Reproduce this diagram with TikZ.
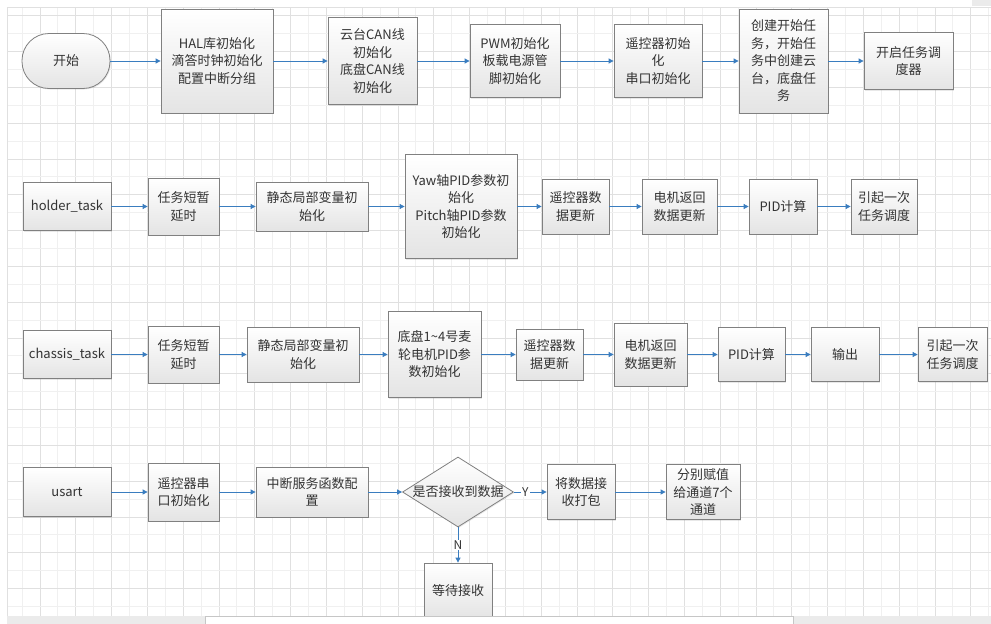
\documentclass[tikz,border=0pt]{standalone}
\usepackage{fontspec}
\setmainfont{Noto Sans CJK SC}
\usetikzlibrary{arrows.meta,shapes.geometric,shadows}
\definecolor{gridminor}{HTML}{F0F0F0}
\definecolor{gridmajor}{HTML}{E0E0E0}
\definecolor{boxborder}{HTML}{808080}
\definecolor{boxbottom}{HTML}{E4E4E4}
\definecolor{arrowblue}{HTML}{3A7DBF}
\definecolor{txt}{HTML}{333333}
\definecolor{barcol}{HTML}{EBEBEB}
\begin{document}
\begin{tikzpicture}[x=1pt,y=-1pt,
  box/.style={draw=boxborder, line width=0.8pt, top color=white, bottom color=boxbottom,
    drop shadow={opacity=0.18,shadow xshift=1pt,shadow yshift=-1pt},
    text=txt, align=center, inner sep=0pt, font=\fontsize{13pt}{17.5pt}\selectfont},
  flow/.style={draw=arrowblue, line width=0.8pt, -{Triangle[length=5pt,width=5pt]}},
  lbl/.style={fill=white, inner sep=1pt, text=txt, font=\fontsize{12pt}{14pt}\selectfont},
]
\useasboundingbox (0,0) rectangle (991,624);
\fill[white] (0,0) rectangle (991,624);
% grid
\foreach \k in {0,...,54}{
  \pgfmathsetmacro{\xx}{22+17.9*\k}
  \ifodd\k \def\gc{gridmajor}\else \def\gc{gridminor}\fi
  \draw[\gc, line width=0.8pt] (\xx,7) -- (\xx,616);
}
\foreach \k in {0,...,33}{
  \pgfmathsetmacro{\yy}{15.7+17.9*\k}
  \ifodd\k \def\gc{gridminor}\else \def\gc{gridmajor}\fi
  \draw[\gc, line width=0.8pt] (7,\yy) -- (991,\yy);
}
\draw[gridmajor, line width=0.8pt] (7,616) -- (7,7) -- (991,7);
\fill[barcol] (972,0) rectangle (991,6);

% row 1
\node[box, rounded corners=27pt, minimum width=88pt, minimum height=55pt] (start) at (66,61) {开始};
\node[box, minimum width=112pt, minimum height=104pt] (hal) at (217,61) {HAL库初始化\\滴答时钟初始化\\配置中断分组};
\node[box, minimum width=89pt, minimum height=87pt] (can) at (372.5,61) {云台CAN线\\初始化\\底盘CAN线\\初始化};
\node[box, minimum width=90pt, minimum height=73pt] (pwm) at (515,61) {PWM初始化\\板载电源管\\脚初始化};
\node[box, minimum width=88pt, minimum height=73pt] (rcinit) at (658,61) {遥控器初始\\化\\串口初始化};
\node[box, minimum width=89pt, minimum height=104pt] (create) at (783.5,61) {创建开始任\\务，开始任\\务中创建云\\台，底盘任\\务};
\node[box, minimum width=89pt, minimum height=57pt] (sched) at (908.5,61) {开启任务调\\度器};
\draw[flow] (start) -- (hal);
\draw[flow] (hal) -- (can);
\draw[flow] (can) -- (pwm);
\draw[flow] (pwm) -- (rcinit);
\draw[flow] (rcinit) -- (create);
\draw[flow] (create) -- (sched);

% row 2
\node[box, minimum width=88pt, minimum height=48pt] (holder) at (67,206.5) {holder\_task};
\node[box, minimum width=71pt, minimum height=57pt] (hA) at (183.5,206.5) {任务短暂\\延时};
\node[box, minimum width=112pt, minimum height=49pt] (hB) at (312,206.5) {静态局部变量初\\始化};
\node[box, minimum width=112pt, minimum height=104pt] (hC) at (461,206.5) {Yaw轴PID参数初\\始化\\Pitch轴PID参数\\初始化};
\node[box, minimum width=67pt, minimum height=55pt] (hD) at (575.5,206.5) {遥控器数\\据更新};
\node[box, minimum width=75pt, minimum height=55pt] (hE) at (679.5,206.5) {电机返回\\数据更新};
\node[box, minimum width=68pt, minimum height=55pt] (hF) at (783,206.5) {PID计算};
\node[box, minimum width=66pt, minimum height=55pt] (hG) at (884,206.5) {引起一次\\任务调度};
\draw[flow] (holder) -- (hA);
\draw[flow] (hA) -- (hB);
\draw[flow] (hB) -- (hC);
\draw[flow] (hC) -- (hD);
\draw[flow] (hD) -- (hE);
\draw[flow] (hE) -- (hF);
\draw[flow] (hF) -- (hG);

% row 3
\node[box, minimum width=88pt, minimum height=48pt] (chassis) at (67,354.5) {chassis\_task};
\node[box, minimum width=71pt, minimum height=57pt] (cA) at (183.5,354.5) {任务短暂\\延时};
\node[box, minimum width=112pt, minimum height=55pt] (cB) at (303,354.5) {静态局部变量初\\始化};
\node[box, minimum width=93pt, minimum height=86pt] (cC) at (434.5,354.5) {底盘1\textasciitilde4号麦\\轮电机PID参\\数初始化};
\node[box, minimum width=67pt, minimum height=51pt] (cD) at (549.5,354.5) {遥控器数\\据更新};
\node[box, minimum width=73pt, minimum height=63pt] (cE) at (650.5,354.5) {电机返回\\数据更新};
\node[box, minimum width=67pt, minimum height=54pt] (cF) at (751.5,354.5) {PID计算};
\node[box, minimum width=68pt, minimum height=54pt] (cG) at (845,354.5) {输出};
\node[box, minimum width=69pt, minimum height=54pt] (cH) at (952.5,354.5) {引起一次\\任务调度};
\draw[flow] (chassis) -- (cA);
\draw[flow] (cA) -- (cB);
\draw[flow] (cB) -- (cC);
\draw[flow] (cC) -- (cD);
\draw[flow] (cD) -- (cE);
\draw[flow] (cE) -- (cF);
\draw[flow] (cF) -- (cG);
\draw[flow] (cG) -- (cH);

% row 4
\node[box, minimum width=88pt, minimum height=49pt] (usart) at (67,492) {usart};
\node[box, minimum width=71pt, minimum height=58pt] (uA) at (183.5,492) {遥控器串\\口初始化};
\node[box, minimum width=112pt, minimum height=50pt] (uB) at (312,492) {中断服务函数配\\置};
\node[box, diamond, aspect=1.59, minimum width=111pt, minimum height=70pt] (dec) at (458,492) {\makebox[0pt]{是否接收到数据}};
\node[box, minimum width=68pt, minimum height=55pt] (uC) at (581,492) {将数据接\\收打包};
\node[box, minimum width=74pt, minimum height=55pt] (uD) at (703,492) {分别赋值\\给通道7个\\通道};
\node[box, minimum width=68pt, minimum height=56pt] (wait) at (458,591) {等待接收};
\draw[flow] (usart) -- (uA);
\draw[flow] (uA) -- (uB);
\draw[flow] (uB) -- (dec);
\draw[flow] (dec) -- node[lbl, pos=0.35] {Y} (uC);
\draw[flow] (dec) -- node[lbl, pos=0.5] {N} (wait);
\draw[flow] (uC) -- (uD);

% bottom bar
\fill[barcol] (7,616) rectangle (991,624);
\filldraw[fill=white, draw=gray!45, line width=0.8pt] (205,616.4) rectangle (793,630);
\end{tikzpicture}
\end{document}
